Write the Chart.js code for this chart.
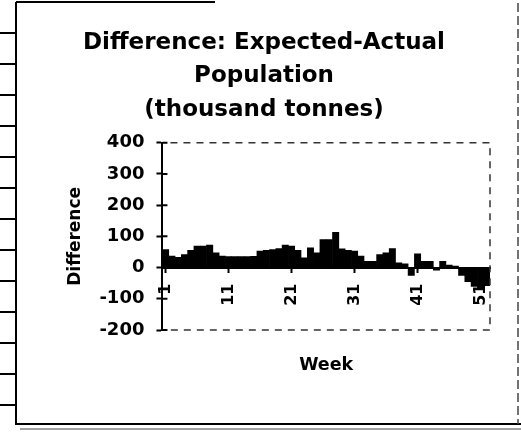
<!DOCTYPE html>
<html>
<head>
<meta charset="utf-8">
<script src="https://cdn.jsdelivr.net/npm/chart.js@4"></script>
<style>
  html, body { margin: 0; padding: 0; background: #fff; }
  canvas { display: block; }
</style>
</head>
<body>
<canvas id="diffChart" width="521" height="432"></canvas>
<script>
// Weekly difference, expected minus actual (thousand tonnes)
const weeks = ['1','2','3','4','5','6','7','8','9','10','11','12','13',
  '14','15','16','17','18','19','20','21','22','23','24','25','26',
  '27','28','29','30','31','32','33','34','35','36','37','38','39',
  '40','41','42','43','44','45','46','47','48','49','50','51','52'];
const differences = [58, 37, 33, 42, 55, 69, 69, 72, 47, 37, 35, 35, 35,
  35, 36, 53, 55, 58, 61, 72, 69, 55, 31, 63, 47, 90,
  90, 113, 60, 55, 53, 37, 20, 20, 42, 47, 61, 15, 12,
  -25, 44, 20, 20, -8, 20, 8, 5, -25, -45, -60, -65, -58];
const labeledWeeks = ['1', '11', '21', '31', '41', '51'];
const titleLines = ['Difference: Expected-Actual', 'Population', '(thousand tonnes)'];

Chart.defaults.font.family = "'DejaVu Sans', sans-serif";
Chart.defaults.font.weight = 'bold';
Chart.defaults.color = '#000';

// page border, dashed plot frame and the inner half of the y ticks
const framePlugin = {
  id: 'framePlugin',
  beforeDraw(chart) {
    const c = chart.ctx;
    c.save();
    c.fillStyle = '#fff';
    c.fillRect(0, 0, chart.width, chart.height);
    c.strokeStyle = '#000';
    c.lineWidth = 2;
    c.beginPath();
    c.moveTo(16, 2); c.lineTo(215, 2);
    c.moveTo(16, 2); c.lineTo(16, 424); c.lineTo(521, 424);
    c.stroke();
    c.lineWidth = 1;
    c.strokeStyle = '#444';
    c.beginPath();
    c.moveTo(20, 429); c.lineTo(521, 429);
    c.stroke();
    c.setLineDash([9, 4]);
    c.lineWidth = 1.5;
    c.beginPath();
    c.moveTo(518, 3); c.lineTo(518, 424);
    c.stroke();
    c.setLineDash([]);
    c.lineWidth = 2;
    c.strokeStyle = '#000';
    c.beginPath();
    for (let y = 33; y < 420; y += 31) {
      c.moveTo(0, y); c.lineTo(16, y);
    }
    c.stroke();
    c.restore();
  },
  afterDraw(chart) {
    const c = chart.ctx;
    const {left, right, top, bottom} = chart.chartArea;
    c.save();
    c.strokeStyle = '#333';
    c.lineWidth = 1.5;
    c.setLineDash([7, 6]);
    c.beginPath();
    c.moveTo(left + 8, top); c.lineTo(right, top); c.lineTo(right, bottom); c.lineTo(left + 8, bottom);
    c.stroke();
    c.setLineDash([]);
    c.strokeStyle = '#000';
    c.lineWidth = 2;
    const yScale = chart.scales.y;
    c.beginPath();
    yScale.ticks.forEach(t => {
      const py = yScale.getPixelForValue(t.value);
      c.moveTo(left, py); c.lineTo(left + 5, py);
    });
    c.stroke();
    c.restore();
  }
};

const ctx = document.getElementById('diffChart').getContext('2d');
new Chart(ctx, {
  type: 'bar',
  data: {
    labels: weeks,
    datasets: [{
      data: differences,
      backgroundColor: '#000',
      borderWidth: 0,
      barPercentage: 1.0,
      categoryPercentage: 1.0
    }]
  },
  options: {
    responsive: false,
    animation: false,
    layout: {
      padding: { left: 38, right: 31, top: 0, bottom: 56 }
    },
    plugins: {
      legend: { display: false },
      tooltip: { enabled: false },
      title: {
        display: true,
        text: titleLines,
        font: { size: 23, weight: 'bold', lineHeight: 1.46 },
        color: '#000',
        padding: { top: 26, bottom: 16 }
      }
    },
    scales: {
      x: {
        position: { y: 0 },
        grid: {
          drawOnChartArea: false,
          offset: false,
          tickLength: 4,
          tickWidth: 2,
          tickColor: c => labeledWeeks.includes(weeks[c.index]) ? '#000' : 'rgba(0,0,0,0)'
        },
        border: { color: '#000', width: 2 },
        ticks: {
          autoSkip: false,
          minRotation: 90,
          maxRotation: 90,
          padding: 12,
          font: { size: 16, weight: 'bold' },
          callback: function(value, index) {
            const lab = weeks[index];
            return labeledWeeks.includes(lab) ? lab : '';
          }
        }
      },
      x2: {
        type: 'category',
        position: 'bottom',
        labels: weeks,
        grid: { display: false, drawTicks: false },
        border: { display: false },
        ticks: { display: false },
        title: {
          display: true,
          text: 'Week',
          font: { size: 17.5, weight: 'bold' },
          padding: { top: 25, bottom: 0 }
        }
      },
      y: {
        min: -200,
        max: 400,
        grid: {
          drawOnChartArea: false,
          tickLength: 6,
          tickWidth: 2,
          tickColor: '#000'
        },
        border: { color: '#000', width: 2 },
        ticks: {
          stepSize: 100,
          padding: 12,
          font: { size: 18, weight: 'bold' }
        },
        title: {
          display: true,
          text: 'Difference',
          font: { size: 17, weight: 'bold' },
          padding: { top: 27, bottom: 2 }
        }
      }
    }
  },
  plugins: [framePlugin]
});
</script>
</body>
</html>
